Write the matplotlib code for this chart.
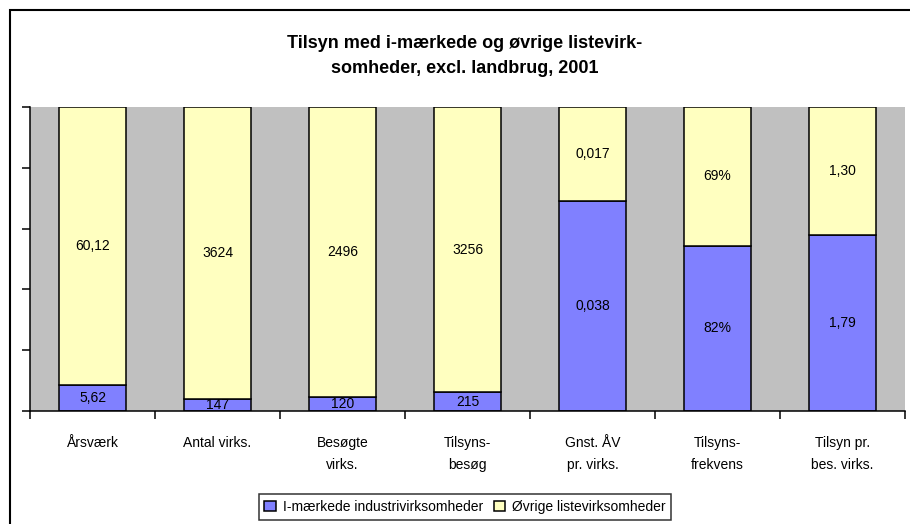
import matplotlib.pyplot as plt
from matplotlib.patches import Rectangle

categories = ["Årsværk", "Antal virks.", "Besøgte\nvirks.", "Tilsyns-\nbesøg",
              "Gnst. ÅV\npr. virks.", "Tilsyns-\nfrekvens", "Tilsyn pr.\nbes. virks."]
i_maerkede = [5.62, 147, 120, 215, 0.038, 82, 1.79]
oevrige = [60.12, 3624, 2496, 3256, 0.017, 69, 1.30]
label_fmt = ["{:.2f}", "{:.0f}", "{:.0f}", "{:.0f}", "{:.3f}", "{:.0f}%", "{:.2f}"]
series_names = ["I-mærkede industrivirksomheder", "Øvrige listevirksomheder"]

BLUE = "#8080FF"
YELLOW = "#FFFFC0"
GRAY = "#C0C0C0"

plt.rcParams["font.family"] = ["Liberation Sans", "DejaVu Sans"]

fig = plt.figure(figsize=(9.1, 5.24), dpi=100)
# chart border, runs off the right and bottom edges like the original
fig.patches.append(Rectangle((10 / 910, -0.2), 1.2, 1.2 - 10 / 524,
                             transform=fig.transFigure, fill=False,
                             edgecolor="black", linewidth=1.5))
ax = fig.add_axes([30 / 910, 113 / 524, 875 / 910, 304 / 524])
ax.set_facecolor(GRAY)

totals = [a + b for a, b in zip(i_maerkede, oevrige)]
share_a = [a / t for a, t in zip(i_maerkede, totals)]
share_b = [b / t for b, t in zip(oevrige, totals)]
x = list(range(len(categories)))

ax.bar(x, share_a, width=0.54, color=BLUE, edgecolor="black", linewidth=1.1,
       label=series_names[0])
ax.bar(x, share_b, width=0.54, bottom=share_a, color=YELLOW, edgecolor="black",
       linewidth=1.1, label=series_names[1])

for xi, a, b, sa, sb, fmt in zip(x, i_maerkede, oevrige, share_a, share_b, label_fmt):
    for val, y in ((a, sa / 2), (b, sa + sb / 2)):
        ax.text(xi, y, fmt.format(val).replace(".", ","), ha="center", va="center",
                fontsize=10)

ax.set_xlim(-0.5, len(categories) - 0.5)
ax.set_ylim(0, 1)
ax.set_yticks([0, 0.2, 0.4, 0.6, 0.8, 1.0])
ax.set_yticklabels([])
ax.set_xticks([i - 0.5 for i in range(len(categories) + 1)])
ax.set_xticklabels([])
ax.set_xticks(x, minor=True)
ax.set_xticklabels(categories, minor=True, fontsize=10, linespacing=1.75)
ax.tick_params(axis="x", which="minor", length=0, pad=18)
ax.tick_params(axis="both", which="major", length=6, width=1.1, direction="out")
for side in ("top", "right"):
    ax.spines[side].set_visible(False)
for side in ("left", "bottom"):
    ax.spines[side].set_linewidth(1.1)

fig.text(465 / 910, 1 - 56 / 524,
         "Tilsyn med i-mærkede og øvrige listevirk-\nsomheder, excl. landbrug, 2001",
         ha="center", va="center", fontsize=13, fontweight="bold", linespacing=1.6)

leg = fig.legend(loc="center", bbox_to_anchor=(465 / 910, 1 - 507 / 524), ncol=2,
                 fontsize=10, frameon=True, fancybox=False, edgecolor="black",
                 handlelength=0.8, handleheight=0.8, handletextpad=0.5,
                 columnspacing=0.8, borderpad=0.4)
leg.get_frame().set_linewidth(1.1)

fig.savefig("out.png", dpi=100)
